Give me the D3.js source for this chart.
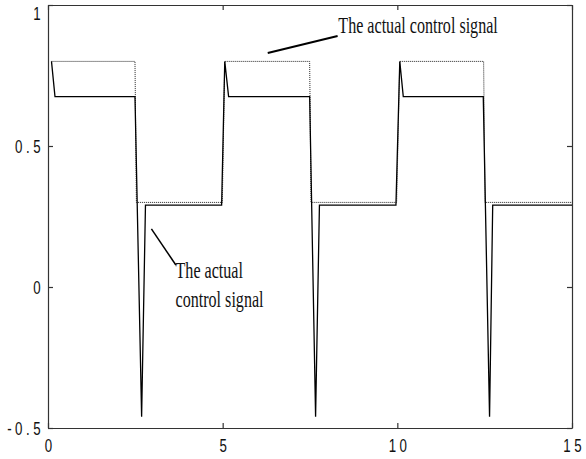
<!DOCTYPE html>
<html lang="en">
<head>
    <meta charset="UTF-8">
    <title>Control signal</title>
    <script src="https://d3js.org/d3.v7.min.js"></script>
    <style>
        body { margin: 0; background: #fff; }
        .tick-label {
            font-family: "Liberation Sans", Arial, sans-serif;
            font-size: 19px;
            letter-spacing: 5px;
            fill: #111;
        }
        .note {
            font-family: "Liberation Serif", "Times New Roman", serif;
            font-size: 23px;
            fill: #111;
        }
    </style>
</head>
<body>

<svg id="chart" width="586" height="459"></svg>

<script>
    // actual control signal (solid) - time / value
    const solidT = [0.1, 0.2, 2.49, 2.68, 2.79, 4.97, 5.06, 5.17, 7.49, 7.66, 7.77, 9.96, 10.07, 10.17, 12.46, 12.64, 12.73, 15];
    const solidY = [0.8, 0.675, 0.675, -0.46, 0.29, 0.29, 0.8, 0.675, 0.675, -0.46, 0.29, 0.29, 0.8, 0.675, 0.675, -0.46, 0.29, 0.29];

    // reference square wave (dotted)
    const refT = [0.1, 2.49, 2.53, 4.99, 5.06, 7.49, 7.53, 9.98, 10.07, 12.47, 12.51, 15];
    const refY = [0.8, 0.8, 0.3, 0.3, 0.8, 0.8, 0.3, 0.3, 0.8, 0.8, 0.3, 0.3];

    const xTicks = [0, 5, 10, 15];
    const yTicks = [-0.5, 0, 0.5, 1];

    // annotations: [text lines], text anchor point and leader line, in data units
    const noteTop = { lines: ['The actual control signal'], t: 8.31, v: 0.902, lead: [[6.29, 0.83], [8.29, 0.89]] };
    const noteLow = { lines: ['The actual', 'control signal'], t: 3.65, v: 0.031, lead: [[2.96, 0.206], [3.66, 0.078]] };

    const squeeze = 0.7; // text in the picture is narrow

    const svg = d3.select('#chart');
    const x = d3.scaleLinear().domain([0, 15]).range([48, 572]);
    const y = d3.scaleLinear().domain([-0.5, 1]).range([428, 5]);

    const fmt = d => String(d);

    // frame with inward ticks
    const bottom = svg.append('g')
        .attr('transform', `translate(0,${y(-0.5)})`)
        .call(d3.axisBottom(x).tickValues(xTicks).tickSizeInner(-5).tickSizeOuter(0).tickPadding(11).tickFormat(fmt));
    svg.append('g')
        .attr('transform', `translate(0,${y(1)})`)
        .call(d3.axisTop(x).tickValues(xTicks).tickSizeInner(-5).tickSizeOuter(0).tickFormat(''));
    const left = svg.append('g')
        .attr('transform', `translate(${x(0)},0)`)
        .call(d3.axisLeft(y).tickValues(yTicks).tickSizeInner(-5).tickSizeOuter(0).tickPadding(8).tickFormat(fmt));
    svg.append('g')
        .attr('transform', `translate(${x(15)},0)`)
        .call(d3.axisRight(y).tickValues(yTicks).tickSizeInner(-5).tickSizeOuter(0).tickFormat(''));

    svg.selectAll('.domain').attr('stroke', '#333').attr('stroke-width', 1.2);
    svg.selectAll('.tick line').attr('stroke', '#333').attr('stroke-width', 1.2);

    bottom.selectAll('text')
        .attr('class', 'tick-label')
        .attr('x', 2.5)
        .attr('transform', `scale(${squeeze},1)`);
    left.selectAll('text')
        .attr('class', 'tick-label')
        .attr('x', -5.6)
        // keep the top label inside the picture
        .attr('dy', d => d === 1 ? '0.76em' : '0.32em')
        .attr('transform', `scale(${squeeze},1)`);
    svg.selectAll('.tick text').attr('fill', null);
    svg.selectAll('g').filter(function () { return this.getAttribute('font-size'); })
        .attr('font-size', null).attr('font-family', null);

    // series
    const line = d3.line().x(d => x(d[0])).y(d => y(d[1]));

    svg.append('path')
        .datum(refT.map((t, i) => [t, refY[i]]))
        .attr('d', line)
        .attr('fill', 'none')
        .attr('stroke', '#222')
        .attr('stroke-width', 1)
        .attr('stroke-dasharray', '1,1');

    svg.append('path')
        .datum(solidT.map((t, i) => [t, solidY[i]]))
        .attr('d', line)
        .attr('fill', 'none')
        .attr('stroke', '#000')
        .attr('stroke-width', 1.3)
        .attr('stroke-linejoin', 'miter');

    // annotations
    function note(n, width) {
        svg.append('path')
            .datum(n.lead)
            .attr('d', line)
            .attr('stroke', '#000')
            .attr('stroke-width', width);
        const g = svg.append('g')
            .attr('transform', `translate(${x(n.t)},${y(n.v)})`);
        g.append('text')
            .attr('class', 'note')
            .attr('transform', `scale(${squeeze},1)`)
            .selectAll('tspan')
            .data(n.lines)
            .enter()
            .append('tspan')
            .attr('x', 0)
            .attr('y', (d, i) => i * 28.4)
            .text(d => d);
    }
    note(noteTop, 2);
    note(noteLow, 1.5);
</script>

</body>
</html>
